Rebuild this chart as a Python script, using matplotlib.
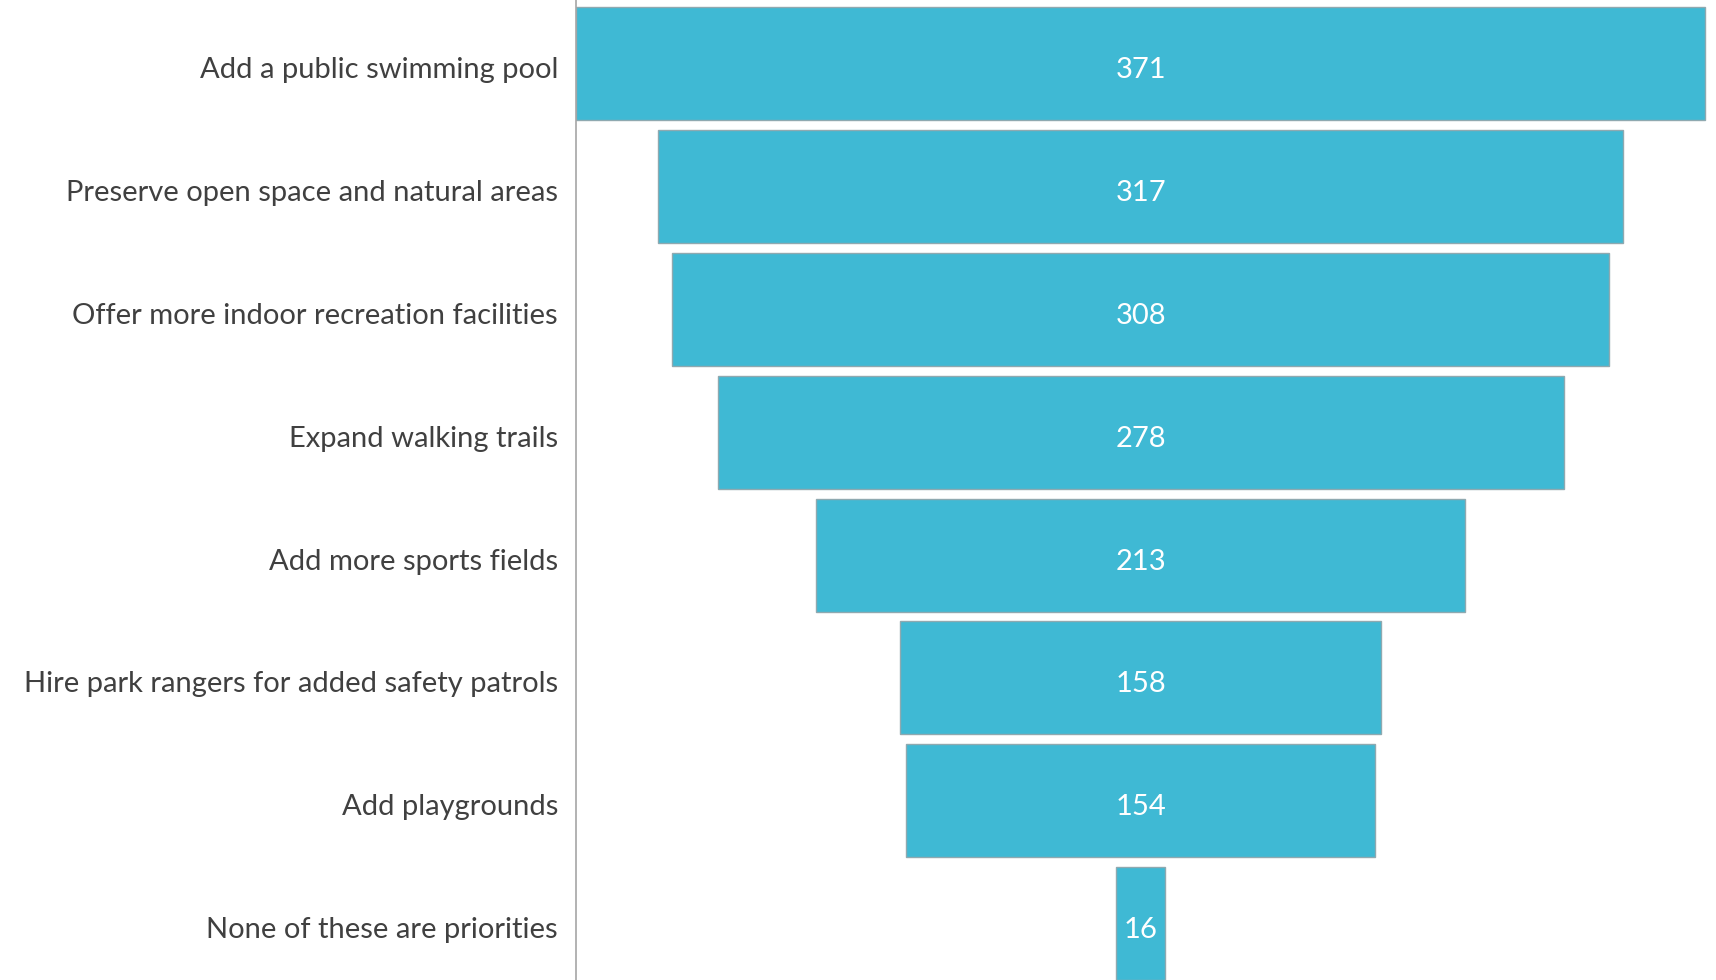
import matplotlib.pyplot as plt
import matplotlib.transforms as mtrans

categories = [
    "Add a public swimming pool",
    "Preserve open space and natural areas",
    "Offer more indoor recreation facilities",
    "Expand walking trails",
    "Add more sports fields",
    "Hire park rangers for added safety patrols",
    "Add playgrounds",
    "None of these are priorities",
]
counts = [371, 317, 308, 278, 213, 158, 154, 16]

plt.rcParams['font.family'] = ['Lato', 'DejaVu Sans']

fig = plt.figure(figsize=(17.16, 9.8), dpi=100)
ax = fig.add_axes([576 / 1716, 0, 1 - 576 / 1716, 1])

ypos = list(range(len(categories)))
lefts = [-c / 2 for c in counts]
ax.barh(ypos, counts, left=lefts, height=0.92, color='#3FB9D4',
        edgecolor='#8FA9B0', linewidth=1.0)

# push text down a few pixels, the labels sit a bit low in the original
shift = mtrans.ScaledTranslation(0, -0.04, fig.dpi_scale_trans)

for y, c in zip(ypos, counts):
    ax.text(0, y, str(c), ha='center', va='center_baseline', color='white',
            fontsize=21, transform=ax.transData + shift)

ax.set_xlim(-185.5, 189)
ax.set_ylim(7.46, -0.52)

ax.set_yticks(ypos)
ax.set_yticklabels(categories, fontsize=21, color='#404040')
ax.tick_params(axis='y', length=0, pad=13)
for lbl in ax.get_yticklabels():
    lbl.set_transform(lbl.get_transform() + shift)
ax.set_xticks([])

for s in ['top', 'right', 'bottom']:
    ax.spines[s].set_visible(False)
ax.spines['left'].set_color('#A6A6A6')
ax.spines['left'].set_linewidth(1.2)

fig.savefig('out.png', dpi=100)
